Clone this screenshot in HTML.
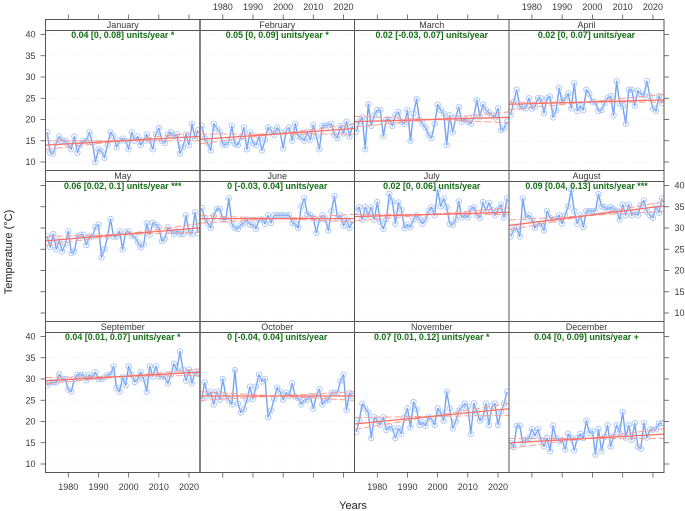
<!DOCTYPE html>
<html lang="en">
<head>
<meta charset="utf-8">
<title>Monthly temperature trends</title>
<style>
html,body{margin:0;padding:0;background:#fff;}
body{width:685px;height:511px;overflow:hidden;}
svg{display:block;font-family:"Liberation Sans",Arial,sans-serif;}
</style>
</head>
<body>
<svg id="chart" width="685" height="511" viewBox="0 0 685 511" xmlns="http://www.w3.org/2000/svg">
  <rect x="0" y="0" width="685" height="511" fill="#ffffff"/>
  <text transform="translate(12,252) rotate(-90)" text-anchor="middle" font-size="11" fill="#222">Temperature (°C)</text>
  <text x="353" y="509" text-anchor="middle" font-size="11" fill="#222">Years</text>
</svg>
<script>
const months = ["January","February","March","April","May","June","July","August","September","October","November","December"];
const years = [1973,1974,1975,1976,1977,1978,1979,1980,1981,1982,1983,1984,1985,1986,1987,1988,1989,1990,1991,1992,1993,1994,1995,1996,1997,1998,1999,2000,2001,2002,2003,2004,2005,2006,2007,2008,2009,2010,2011,2012,2013,2014,2015,2016,2017,2018,2019,2020,2021,2022,2023];
const xTickLabels = [1980,1990,2000,2010,2020];
const yTickLabels = [10,15,20,25,30,35,40];

const january = [17,12.2,12,14.5,16,15,15,14,13,16,12.2,14,15,15,17,14.5,10,13,12.5,11,14,17,16,13.5,15,15.5,15,13,17,15,16,14,15,16.5,15,13,16.5,18,15,14.5,16.5,17,16,16.5,12,13.5,16.5,14,19,15.5,17.5];
const february = [18.5,15.6,14.4,12.7,19,17.9,17.1,14.2,14,14.8,18.5,14.2,14,15.8,18.1,13,17,14.4,14,16,12.7,15.2,18.1,17.5,16.4,18.1,17,13.2,17.4,18.1,15,19,16,15.8,15,17,15.2,18.7,16,13,18.5,18.6,18.6,19,16.4,15.6,18.5,16.7,19.5,16,18.5];
const march = [17.1,19.5,20.5,13,23.6,18.5,21,22.2,22.2,16.1,20,20,18.5,21,21.8,19.5,19,22.2,15,21.4,24.8,20,19,18.1,16.4,15.6,19,23.5,22.2,21.4,14,21,17,20.5,22.9,19.5,20,19.5,19,20.7,24.6,20.7,23.5,22.2,21.6,21,20.5,22.6,17.5,17.9,19.5];
const april = [21,24.2,27,23,22.9,22.6,25,22.6,23,25,25,21.5,25,25.4,20.5,22.1,27.4,24.2,25,26.1,22.6,28.5,22,23.2,22.2,27,26,24.2,24,22,22.2,23.8,25,25.5,21,29,23.8,23.2,19,27,27,23.2,26.8,26,25.7,29,25.5,22.6,22,25.5,23.8];
const may = [28,25.5,28.6,25,27,24.5,26.2,29.2,24.1,24.5,28,28.4,28.4,26,28,28,30.2,30.8,23.1,25,28,32.1,28,28,29.2,25,29,29.2,28.2,28,26.7,25.5,26.1,31.1,28.4,31.2,30.8,30.2,26.9,27.5,30.2,29.3,28.6,29.2,28.6,28.6,33,29,28.6,33.7,28.8];
const june = [34.7,32.4,31.2,30,32.9,34.5,34.5,32,32,37,31,30,29.8,30.8,31.2,32,30.8,30.8,29.8,32,32,31,33,31.2,33,33,33,33,33,33,31.2,31,30,35.1,37,33.3,33,32.4,28.8,32,33,32,29.4,34,37.5,32.4,33,30.5,32,30,31.6];
const july = [34,34.9,32,34.9,33.1,34.9,32,36.1,31.4,29.8,32,38,36.3,31,36,34.3,30,30.8,30.2,32,33,32,31,32,34,34.9,33,39,35.1,36.9,34.9,31,30.8,32,36.3,32.5,33,32.5,34.5,34.9,33,32.4,36.1,34,35.9,34.3,33,34.3,35.5,32.5,37];
const august = [28,29.6,30,28,37,32.5,33,32,30,31,31,29.4,34,32.4,32,32,33,31,33,35.1,39,34,31,33,30.2,34,34,34,34,38,35.1,34.9,34.3,34.9,34.5,34,32,35.5,33,35.5,33,33.7,33,35.4,36.5,33.9,33,32.4,35.1,33.6,37];
const september = [28.5,29.2,29.2,29.2,31.1,30,30,27.5,27,30,31,31,31,29.7,31,30.4,31.6,30,30,30.4,31,31,33,28,27,30.4,28.5,33,31,29.3,30,31.6,30,27,33,30.6,33,30.6,30.6,30.4,29,31,33.6,32,36.5,32.2,29.6,32.2,29,31.6,31.2];
const october = [25.3,29.2,26,27,24,27,25.1,30,26,25.1,24,32.1,24.2,22.1,22.9,25.1,28.2,25.3,28.2,31,29.4,30,21,22.6,25.3,28,27,25.1,26.8,26,29,25.9,25.5,24,25.1,25.1,26,23,26,27.6,24,25,25.1,26.7,26.8,26.7,29.5,31,22.7,26.7,26];
const november = [17.5,20.2,24.2,23.1,22.1,16.1,21,20.2,19.2,21,18,18.8,18.4,16.1,18.4,17.1,21,23.1,18.6,24.6,22.9,19.2,19.8,19,21,20.5,19.2,23.1,22.1,20.2,27,23.1,18.4,20,22.5,23.3,24.2,23.5,17.1,24.3,22.1,20.2,21,24.2,19.2,23.5,24.2,19.2,22.3,24.2,27];
const december = [14.9,14,19,19,14.9,15.7,16.1,18.2,16.6,18.2,15.7,14.1,16.1,13,19,16.1,15.4,15.6,13.4,17.1,16.1,13.2,16.1,17.1,16.1,20.2,17.3,17.7,12.2,18.2,13.1,16.4,19.1,14.1,16.5,19.1,17.3,22.2,16.2,19.1,15.7,19.6,14.1,13.6,19.7,16.2,18.1,18.1,18.2,19.5,19.6];
const monthValues = [january,february,march,april,may,june,july,august,september,october,november,december];

const trendCentres = [15,16.6,20,24.1,28.5,32.2,33.2,32.9,30.6,26,21.2,16];
const trendSlopes = [0.04,0.05,0.02,0.02,0.06,0,0.02,0.09,0.04,0,0.07,0.04];
const lowerSlopes = [0,0,-0.03,0,0.02,-0.03,0,0.04,0.01,-0.04,0.01,0];
const upperSlopes = [0.08,0.09,0.07,0.07,0.1,0.04,0.06,0.13,0.07,0.04,0.12,0.09];
const significance = ["*","*","","","***","","","***","*","","*","+"];
const centreYear = 1998;

const SVG_NS = "http://www.w3.org/2000/svg";
const svg = document.getElementById("chart");
const colEdges = [45.5,200,354.5,509,664];
const rowStripTops = [19.5,170.5,321.5];
const stripH = 11;
const panelH = 140;
const xDomain = [1972.44,2023.65];
const yDomain = [8,40.94];
const axisColor = "#555";
const textColor = "#3a3a3a";

function xScale(col, year){
  const l = colEdges[col], r = colEdges[col+1];
  return l + (year - xDomain[0]) / (xDomain[1] - xDomain[0]) * (r - l);
}
function yScale(row, v){
  const top = rowStripTops[row] + stripH;
  return top + (yDomain[1] - v) / (yDomain[1] - yDomain[0]) * panelH;
}
function make(tag, attrs, parent){
  const el = document.createElementNS(SVG_NS, tag);
  for (const k in attrs) el.setAttribute(k, attrs[k]);
  parent.appendChild(el);
  return el;
}
function slug(s){ return String(s).toLowerCase(); }

const defs = make("defs", {}, svg);

months.forEach(function(month, i){
  const col = i % 4, row = Math.floor(i / 4);
  const left = colEdges[col], right = colEdges[col+1];
  const stripTop = rowStripTops[row], top = stripTop + stripH, bottom = top + panelH;
  const key = slug(month);

  const clip = make("clipPath", {id: "clip-" + key}, defs);
  make("rect", {x:left, y:top, width:right-left, height:panelH}, clip);

  const panel = make("g", {}, svg);
  
  

  yTickLabels.forEach(function(t){
    const g = make("line", {x1:left, x2:right, y1:yScale(row,t), y2:yScale(row,t), stroke:"#ececec", "stroke-width":0.7, "stroke-dasharray":"1 2"}, panel);
    
    
  });

  const marks = make("g", {"clip-path":"url(#clip-" + key + ")"}, panel);
  
  

  const values = monthValues[i];
  const pts = values.map(function(v, j){ return xScale(col, years[j]).toFixed(2) + "," + yScale(row, v).toFixed(2); }).join(" ");
  const series = make("polyline", {points:pts, fill:"none", stroke:"#74a3f3", "stroke-width":1.4, "stroke-linejoin":"round"}, marks);
  
  

  values.forEach(function(v, j){
    const c = make("circle", {cx:xScale(col, years[j]), cy:yScale(row, v), r:2.7, fill:"none", stroke:"#a9c6f7", "stroke-width":0.9}, marks);
    
    
  });

  function lineAt(slope, attrs){
    const y0 = trendCentres[i] + slope * (xDomain[0] - centreYear);
    const y1 = trendCentres[i] + slope * (xDomain[1] - centreYear);
    const base = {x1:left, x2:right, y1:yScale(row, y0), y2:yScale(row, y1), fill:"none"};
    for (const k in attrs) base[k] = attrs[k];
    return make("line", base, marks);
  }
  const low = lineAt(lowerSlopes[i], {stroke:"#ff9c93", "stroke-width":1, "stroke-dasharray":"7 3"});
  
  
  const high = lineAt(upperSlopes[i], {stroke:"#ff9c93", "stroke-width":1, "stroke-dasharray":"7 3"});
  
  
  const trend = lineAt(trendSlopes[i], {stroke:"#ff6f64", "stroke-width":1.3});
  
  

  const box = make("rect", {x:left, y:stripTop, width:right-left, height:stripH+panelH, fill:"none", stroke:axisColor, "stroke-width":1}, panel);
  
  
  const stripLine = make("line", {x1:left, x2:right, y1:top, y2:top, stroke:axisColor, "stroke-width":1}, panel);
  
  

  if (col === 0) {
    const divider = make("line", {x1:right, x2:right, y1:stripTop, y2:bottom, stroke:"#777", "stroke-width":1.6}, panel);
    
    
  }

  const stripText = make("text", {x:(left+right)/2, y:stripTop+8.6, "text-anchor":"middle", "font-size":9, fill:textColor}, panel);
  stripText.textContent = month;
  
  

  const note = make("text", {x:(left+right)/2, y:top+7.6, "text-anchor":"middle", "font-size":8.9, "font-weight":"bold", fill:"#146f16"}, panel);
  note.textContent = trendSlopes[i] + " [" + lowerSlopes[i] + ", " + upperSlopes[i] + "] units/year" + (significance[i] ? " " + significance[i] : "");
  
  

  if (row === 0) {
    xTickLabels.forEach(function(t){
      const x = xScale(col, t);
      const tick = make("line", {x1:x, x2:x, y1:stripTop, y2:stripTop-5, stroke:axisColor, "stroke-width":0.8}, panel);
      
      
      if (col % 2 === 1) {
        const lab = make("text", {x:x, y:10, "text-anchor":"middle", "font-size":9, fill:textColor}, panel);
        lab.textContent = t;
        
        
      }
    });
  }
  if (row === 2) {
    xTickLabels.forEach(function(t){
      const x = xScale(col, t);
      const tick = make("line", {x1:x, x2:x, y1:bottom, y2:bottom+5, stroke:axisColor, "stroke-width":0.8}, panel);
      
      
      if (col % 2 === 0) {
        const lab = make("text", {x:x, y:490, "text-anchor":"middle", "font-size":9, fill:textColor}, panel);
        lab.textContent = t;
        
        
      }
    });
  }
  if (col === 0) {
    yTickLabels.forEach(function(t){
      const y = yScale(row, t);
      const tick = make("line", {x1:left, x2:left-5, y1:y, y2:y, stroke:axisColor, "stroke-width":0.8}, panel);
      
      
      if (row !== 1) {
        const lab = make("text", {x:35.5, y:y+3.2, "text-anchor":"end", "font-size":9, fill:textColor}, panel);
        lab.textContent = t;
        
        
      }
    });
  }
  if (col === 3) {
    yTickLabels.forEach(function(t){
      const y = yScale(row, t);
      const tick = make("line", {x1:right, x2:right+5, y1:y, y2:y, stroke:axisColor, "stroke-width":0.8}, panel);
      
      
      if (row === 1) {
        const lab = make("text", {x:674.5, y:y+3.2, "text-anchor":"start", "font-size":9, fill:textColor}, panel);
        lab.textContent = t;
        
        
      }
    });
  }
});
</script>
</body>
</html>
